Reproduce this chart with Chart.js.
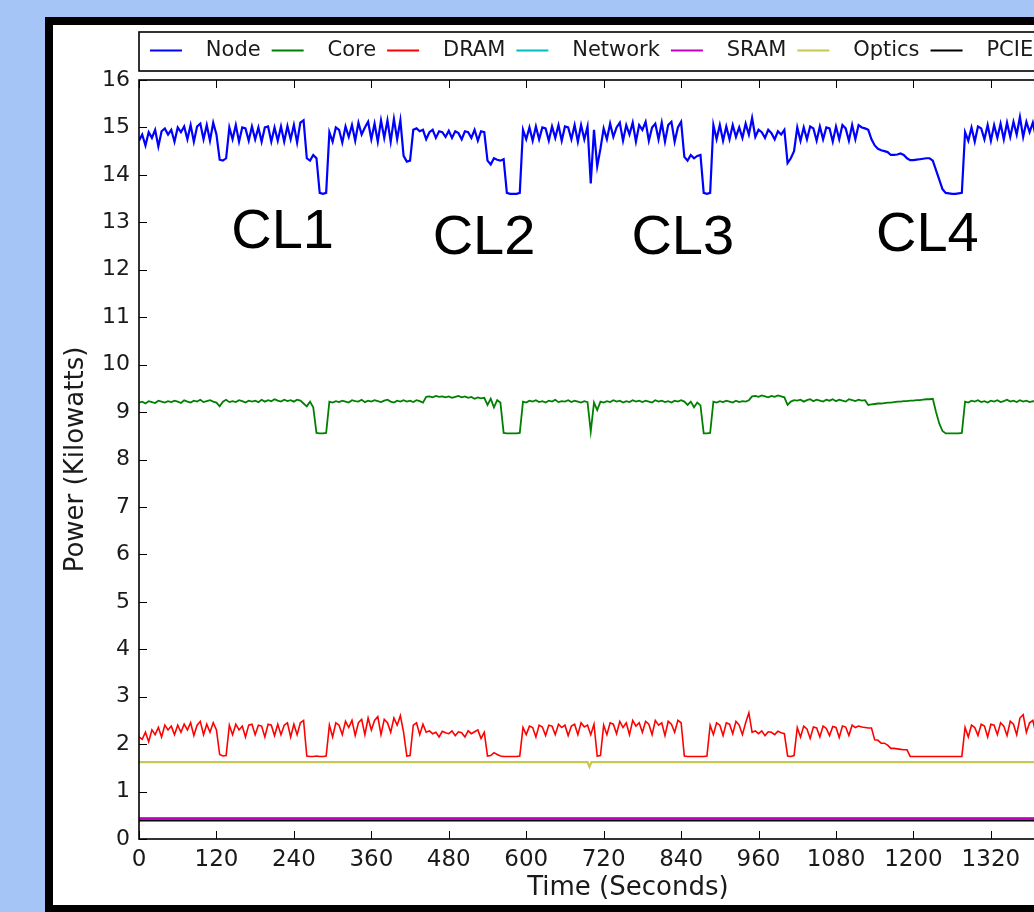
<!DOCTYPE html>
<html>
<head>
<meta charset="utf-8">
<script src="https://cdn.jsdelivr.net/npm/chart.js@4/dist/chart.umd.min.js"></script>
<style>
  html, body { margin:0; padding:0; }
  body { width:1034px; height:912px; overflow:hidden; background:#a6c5f7; position:relative; }
  #frame { position:absolute; left:45px; top:17px; width:1200px; height:1000px; background:#000; }
  #inner { position:absolute; left:53px; top:25px; width:1150px; height:880px; background:#fff; }
  #c { position:absolute; left:0; top:0; }
</style>
</head>
<body>
<div id="frame"></div>
<div id="inner"><canvas id="c" width="1100" height="880"></canvas></div>
<script>
// ---- data (kilowatts), one sample every STEP seconds starting at t = 0 ----
const STEP = 5;
const seriesNames = ['Node', 'Core', 'DRAM', 'Network', 'SRAM', 'Optics', 'PCIE'];
const nodeKW = [
  14.72,14.85,14.62,14.90,14.78,14.95,14.60,14.92,14.98,14.85,14.95,14.70,
  15.00,14.90,15.02,14.75,15.05,14.70,15.02,15.08,14.75,15.05,14.72,15.10,
  14.85,14.32,14.30,14.35,15.00,14.75,15.05,14.70,15.00,14.98,14.72,15.02,
  14.75,15.00,14.70,15.00,15.02,14.70,15.00,14.72,15.02,14.70,15.03,14.75,
  15.05,14.68,15.10,15.15,14.35,14.30,14.42,14.35,13.62,13.60,13.62,14.90,
  14.70,15.00,14.95,14.68,15.02,14.80,15.05,14.72,15.10,14.85,15.00,15.12,
  14.75,15.08,14.70,15.15,14.78,15.15,14.70,15.18,14.75,15.15,14.40,14.28,
  14.30,14.95,14.98,14.92,14.95,14.75,14.90,14.95,14.78,14.92,14.90,14.80,
  14.93,14.78,14.92,14.88,14.75,14.92,14.90,14.78,14.95,14.72,14.92,14.90,
  14.30,14.22,14.35,14.32,14.30,14.33,13.62,13.60,13.60,13.60,13.62,14.95,
  14.75,15.00,14.72,15.02,14.75,15.00,14.98,14.72,15.02,14.78,15.05,14.72,
  15.02,15.00,14.75,15.05,14.70,15.05,14.75,15.02,13.82,14.95,14.18,14.55,
  14.98,14.75,15.08,14.80,15.00,15.10,14.72,15.05,14.85,15.10,14.70,15.05,
  14.95,15.12,14.72,15.00,15.08,14.75,15.10,14.70,15.05,15.12,14.70,15.00,
  15.12,14.38,14.30,14.42,14.35,14.40,14.42,13.62,13.60,13.62,15.05,14.75,
  15.05,14.72,15.02,14.75,15.05,14.80,15.00,14.78,15.08,14.85,15.20,14.80,
  14.95,14.90,14.78,14.95,14.88,14.75,14.92,14.85,14.95,14.25,14.35,14.50,
  15.00,14.72,15.00,14.75,15.02,14.98,14.72,15.02,14.75,15.00,14.98,14.70,
  15.02,14.75,15.05,14.98,14.72,15.05,14.75,15.05,15.00,14.98,14.95,14.75,
  14.62,14.55,14.52,14.50,14.48,14.42,14.42,14.43,14.45,14.42,14.35,14.31,
  14.31,14.32,14.33,14.34,14.35,14.35,14.30,14.10,13.90,13.70,13.62,13.61,
  13.60,13.60,13.61,13.62,14.90,14.72,15.00,14.70,15.02,14.98,14.75,15.05,
  14.72,15.05,14.78,15.08,14.75,15.10,14.80,15.12,14.85,15.22,14.80,15.12,
  14.90,15.10,14.78,15.05,14.90,15.02,14.75,15.05,14.85,15.00,14.78,15.05,
  14.72,15.02,14.75,15.05,14.98,14.70,15.02,14.75,15.05,14.80,15.00,14.72,
  15.02,14.78,15.00,14.95
];
const coreKW = [
  9.20,9.22,9.18,9.23,9.21,9.19,9.24,9.22,9.20,9.23,9.21,9.24,
  9.22,9.19,9.25,9.22,9.20,9.24,9.22,9.26,9.21,9.23,9.25,9.22,
  9.20,9.12,9.22,9.26,9.21,9.23,9.21,9.25,9.23,9.20,9.24,9.22,
  9.24,9.21,9.26,9.22,9.25,9.23,9.27,9.24,9.22,9.26,9.23,9.25,
  9.22,9.26,9.24,9.18,9.12,9.22,9.10,8.56,8.55,8.55,8.56,9.22,
  9.20,9.23,9.21,9.24,9.22,9.20,9.25,9.23,9.22,9.26,9.21,9.24,
  9.22,9.25,9.23,9.21,9.24,9.26,9.22,9.20,9.24,9.22,9.25,9.22,
  9.24,9.21,9.25,9.23,9.20,9.32,9.33,9.31,9.34,9.32,9.33,9.31,
  9.33,9.30,9.32,9.34,9.31,9.33,9.30,9.32,9.28,9.31,9.29,9.30,
  9.15,9.28,9.10,9.25,9.20,8.56,8.55,8.55,8.55,8.55,8.56,9.22,
  9.20,9.24,9.22,9.25,9.21,9.23,9.20,9.24,9.22,9.26,9.21,9.23,
  9.22,9.25,9.21,9.24,9.22,9.20,9.23,9.21,8.59,9.20,9.04,9.22,
  9.20,9.23,9.21,9.25,9.22,9.24,9.20,9.23,9.21,9.25,9.22,9.24,
  9.21,9.24,9.22,9.20,9.25,9.22,9.24,9.21,9.23,9.20,9.24,9.22,
  9.25,9.22,9.15,9.22,9.10,9.20,9.14,8.55,8.55,8.56,9.22,9.20,
  9.23,9.21,9.24,9.22,9.20,9.24,9.21,9.23,9.22,9.25,9.33,9.34,
  9.32,9.35,9.33,9.31,9.34,9.32,9.35,9.33,9.31,9.15,9.22,9.25,
  9.24,9.26,9.22,9.25,9.27,9.23,9.26,9.24,9.22,9.26,9.24,9.27,
  9.23,9.26,9.24,9.22,9.27,9.25,9.23,9.26,9.24,9.25,9.15,9.16,
  9.17,9.18,9.18,9.19,9.20,9.20,9.21,9.22,9.22,9.23,9.23,9.24,
  9.24,9.25,9.25,9.26,9.27,9.27,9.28,9.00,8.76,8.60,8.55,8.55,
  8.55,8.55,8.55,8.56,9.22,9.20,9.24,9.22,9.25,9.21,9.23,9.20,
  9.24,9.22,9.25,9.21,9.23,9.26,9.22,9.24,9.21,9.25,9.22,9.24,
  9.21,9.23,9.22,9.25,9.20,9.23,9.22,9.24,9.21,9.23,9.22,9.24,
  9.22,9.25,9.21,9.23,9.20,9.24,9.22,9.25,9.21,9.23,9.22,9.24,
  9.21,9.23,9.22,9.24
];
const dramKW = [
  2.15,2.10,2.25,2.05,2.30,2.20,2.35,2.15,2.40,2.30,2.38,2.20,
  2.40,2.25,2.42,2.30,2.45,2.18,2.40,2.48,2.20,2.42,2.25,2.45,
  2.30,1.78,1.75,1.76,2.40,2.20,2.42,2.30,2.38,2.15,2.40,2.42,
  2.20,2.40,2.38,2.15,2.42,2.40,2.18,2.42,2.20,2.40,2.45,2.15,
  2.42,2.20,2.45,2.50,1.75,1.74,1.74,1.75,1.74,1.74,1.75,2.40,
  2.15,2.45,2.40,2.20,2.48,2.35,2.50,2.18,2.45,2.52,2.20,2.55,
  2.30,2.50,2.58,2.20,2.52,2.45,2.25,2.55,2.40,2.60,2.25,1.75,
  1.76,2.40,2.45,2.20,2.42,2.25,2.28,2.22,2.25,2.15,2.27,2.24,
  2.22,2.28,2.18,2.26,2.24,2.15,2.28,2.22,2.26,2.30,2.12,2.25,
  1.75,1.76,1.82,1.78,1.75,1.74,1.74,1.74,1.74,1.74,1.75,2.35,
  2.20,2.38,2.35,2.15,2.40,2.36,2.18,2.40,2.38,2.20,2.42,2.35,
  2.40,2.18,2.38,2.42,2.20,2.45,2.36,2.40,2.20,2.42,1.75,1.76,
  2.40,2.20,2.45,2.42,2.22,2.48,2.35,2.45,2.20,2.50,2.38,2.45,
  2.25,2.48,2.42,2.20,2.50,2.40,2.45,2.18,2.48,2.42,2.25,2.50,
  2.45,1.75,1.74,1.74,1.74,1.74,1.74,1.74,1.75,2.40,2.20,2.45,
  2.40,2.18,2.45,2.42,2.22,2.48,2.40,2.20,2.45,2.66,2.25,2.28,
  2.22,2.28,2.18,2.26,2.25,2.20,2.27,2.24,2.22,1.75,1.74,1.76,
  2.35,2.15,2.38,2.32,2.12,2.36,2.34,2.15,2.38,2.33,2.18,2.37,
  2.35,2.14,2.38,2.36,2.18,2.40,2.35,2.38,2.36,2.35,2.34,2.34,
  2.09,2.08,2.02,2.02,1.98,1.91,1.91,1.90,1.89,1.88,1.88,1.74,
  1.74,1.74,1.74,1.74,1.74,1.74,1.74,1.74,1.74,1.74,1.74,1.74,
  1.74,1.74,1.74,1.74,2.35,2.15,2.40,2.35,2.18,2.42,2.38,2.15,
  2.42,2.40,2.20,2.45,2.38,2.18,2.48,2.42,2.20,2.55,2.62,2.25,
  2.45,2.50,2.20,2.48,2.42,2.22,2.45,2.40,2.20,2.45,2.38,2.42,
  2.20,2.42,2.38,2.15,2.45,2.40,2.22,2.44,2.38,2.18,2.42,2.40,
  2.20,2.42,2.38,2.40
];
const opticsTime = [0, 695, 698, 701, 1515];
const opticsKW   = [1.62, 1.62, 1.52, 1.62, 1.62];
const flatTime   = [0, 1515];
const networkKW  = [0.43, 0.43];
const sramKW     = [0.44, 0.44];
const pcieKW     = [0.39, 0.39];
const xTickStep = 120;
const yTickStep = 1;
const clLabels = ['CL1', 'CL2', 'CL3', 'CL4'];
const clTime   = [143, 455, 763, 1142];
const clLevel  = [12.46, 12.34, 12.34, 12.40];

// ---- build datasets ----
const sampled = arr => arr.map((v, i) => ({x: i * STEP, y: v}));
const paired = (ts, vs) => ts.map((t, i) => ({x: t, y: vs[i]}));
const colors = ['#0000ff', '#008000', '#ff0000', '#00bfbf', '#bf00bf', '#c8c850', '#000000'];
const widths = [2.2, 1.8, 1.6, 2, 2, 2.2, 2];
const seriesData = [sampled(nodeKW), sampled(coreKW), sampled(dramKW),
  paired(flatTime, networkKW), paired(flatTime, sramKW), paired(opticsTime, opticsKW), paired(flatTime, pcieKW)];

const datasets = seriesNames.map((name, i) => ({
  label: name,
  data: seriesData[i],
  borderColor: colors[i],
  backgroundColor: colors[i],
  borderWidth: widths[i],
  pointRadius: 0,
  tension: 0,
  fill: false,
  order: seriesNames.length - i
}));

const FONT = '"DejaVu Sans", "Bitstream Vera Sans", sans-serif';

const decor = {
  id: 'decor',
  afterDatasetsDraw(chart) {
    const {ctx, chartArea: a, scales: {x, y}} = chart;
    ctx.save();
    ctx.strokeStyle = '#000';
    ctx.lineWidth = 1;
    ctx.beginPath();
    x.ticks.forEach(t => {
      const px = Math.round(x.getPixelForValue(t.value)) + 0.5;
      ctx.moveTo(px, a.bottom); ctx.lineTo(px, a.bottom - 8);
      ctx.moveTo(px, a.top); ctx.lineTo(px, a.top + 8);
    });
    y.ticks.forEach(t => {
      const py = Math.round(y.getPixelForValue(t.value)) + 0.5;
      ctx.moveTo(a.left, py); ctx.lineTo(a.left + 8, py);
      ctx.moveTo(a.right, py); ctx.lineTo(a.right - 8, py);
    });
    ctx.stroke();
    ctx.lineWidth = 1.6;
    ctx.strokeRect(a.left, a.top, a.width, a.height);
    const lg = chart.legend;
    ctx.strokeRect(a.left, lg.top + 3, a.width, lg.bottom - lg.top - 3);
    ctx.font = '56px "Liberation Sans", Arial, sans-serif';
    ctx.fillStyle = '#000';
    ctx.textBaseline = 'alphabetic';
    ctx.textAlign = 'left';
    clLabels.forEach((s, i) => ctx.fillText(s, x.getPixelForValue(clTime[i]), y.getPixelForValue(clLevel[i])));
    ctx.restore();
  }
};

new Chart(document.getElementById('c'), {
  type: 'line',
  data: {datasets},
  options: {
    responsive: false,
    animation: false,
    devicePixelRatio: 1,
    layout: {padding: {top: 4, left: 0, right: 31, bottom: 0}},
    plugins: {
      tooltip: {enabled: false},
      legend: {
        position: 'top',
        align: 'start',
        fullSize: false,
        labels: {
          boxWidth: 32,
          boxHeight: 2,
          padding: 11,
          color: '#1a1a1a',
          font: {family: FONT, size: 21},
          generateLabels: chart => chart.data.datasets.map((ds, i) => ({
            text: '  ' + ds.label,
            fillStyle: ds.borderColor,
            strokeStyle: ds.borderColor,
            lineWidth: 0,
            hidden: false,
            datasetIndex: i,
            fontColor: '#1a1a1a'
          }))
        }
      }
    },
    scales: {
      x: {
        type: 'linear',
        position: 'bottom',
        min: 0,
        max: 1515,
        afterFit: s => { s.height = 66; },
        grid: {display: false, drawTicks: false},
        border: {display: false},
        ticks: {stepSize: xTickStep, padding: 7, color: '#1a1a1a', font: {family: FONT, size: 23}, maxRotation: 0, autoSkip: false,
                callback: v => String(v)},
        title: {display: true, text: 'Time (Seconds)', color: '#1a1a1a', font: {family: FONT, size: 26}, padding: {top: 0, bottom: 1.5}}
      },
      xTopSpace: {
        type: 'linear',
        position: 'top',
        afterFit: s => { s.height = 9; },
        grid: {display: false, drawTicks: false},
        border: {display: false},
        ticks: {display: false}
      },
      y: {
        type: 'linear',
        position: 'left',
        min: 0,
        max: 16,
        afterFit: s => { s.width = 86; },
        grid: {display: false, drawTicks: false},
        border: {display: false},
        ticks: {stepSize: yTickStep, padding: 9, color: '#1a1a1a', font: {family: FONT, size: 22}, callback: v => String(v)},
        title: {display: true, text: 'Power (Kilowatts)', color: '#1a1a1a', font: {family: FONT, size: 26}, padding: {top: 8, bottom: 0}}
      }
    }
  },
  plugins: [decor]
});
</script>
</body>
</html>
